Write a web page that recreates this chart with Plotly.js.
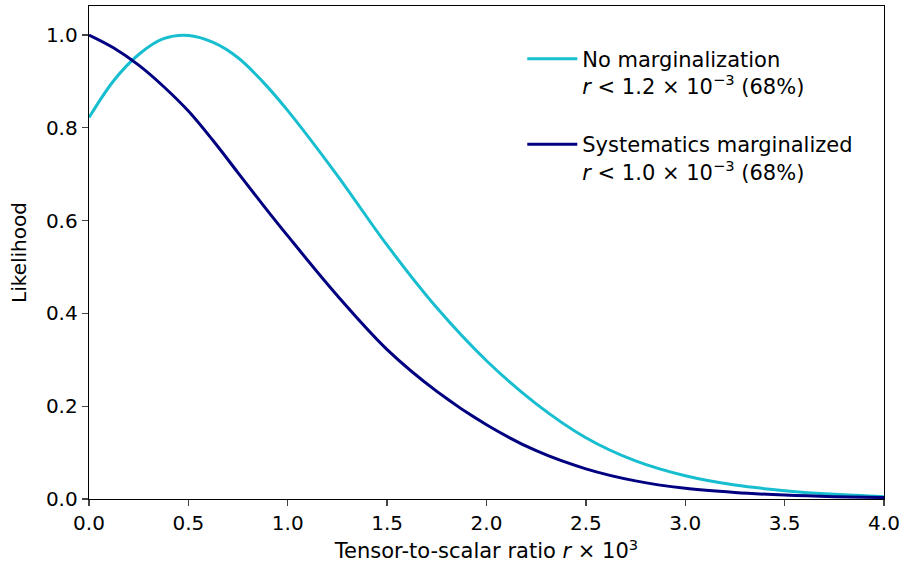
<!DOCTYPE html>
<html>
<head>
<meta charset="utf-8">
<script src="https://cdn.plot.ly/plotly-3.0.1.min.js"></script>
<style>html,body{margin:0;padding:0;background:#fff;}#chart{width:903px;height:567px;}</style>
</head>
<body>
<div id="chart"></div>
<script>
const rValues = [0.0, 0.125, 0.25, 0.375, 0.5, 0.625, 0.75, 0.875, 1.0, 1.25, 1.5, 1.75, 2.0, 2.25, 2.5, 2.75, 3.0, 3.25, 3.5, 3.75, 4.0];
const noMargL = [0.822, 0.902, 0.958, 0.992, 0.999, 0.984, 0.951, 0.899, 0.837, 0.697, 0.547, 0.412, 0.298, 0.205, 0.132, 0.082, 0.050, 0.030, 0.018, 0.010, 0.005];
const sysMargL = [1.0, 0.972, 0.935, 0.889, 0.836, 0.772, 0.703, 0.634, 0.567, 0.438, 0.322, 0.232, 0.160, 0.104, 0.065, 0.039, 0.023, 0.014, 0.0085, 0.005, 0.003];
const seriesNames = [
  'No marginalization<br><i>r</i> < 1.2 × 10<sup>−3</sup> (68%)',
  'Systematics marginalized<br><i>r</i> < 1.0 × 10<sup>−3</sup> (68%)'
];
const xTicks = [0, 0.5, 1.0, 1.5, 2.0, 2.5, 3.0, 3.5, 4.0];
const yTicks = [0, 0.2, 0.4, 0.6, 0.8, 1.0];

const FONT = 'DejaVu Sans, sans-serif';
const traces = [
  {x: rValues, y: noMargL, name: seriesNames[0], legendgroup: 'a', mode: 'lines',
   line: {color: '#17becf', width: 3, shape: 'spline', smoothing: 1}},
  {x: rValues, y: sysMargL, name: seriesNames[1], legendgroup: 'b', mode: 'lines',
   line: {color: '#000080', width: 3, shape: 'spline', smoothing: 1}}
];
const layout = {
  width: 903, height: 567,
  margin: {l: 89, r: 19, t: 6, b: 68},
  paper_bgcolor: '#fff', plot_bgcolor: '#fff',
  font: {family: FONT, size: 20, color: '#000'},
  showlegend: true,
  legend: {x: 0.545, y: 0.934, xanchor: 'left', yanchor: 'top', bgcolor: 'rgba(0,0,0,0)',
           font: {family: FONT, size: 21, color: '#000'}, valign: 'top', tracegroupgap: 28, itemwidth: 50},
  xaxis: {range: [0, 4], tickvals: xTicks, tickformat: '.1f', ticks: 'outside', ticklen: 6, tickwidth: 1.3,
          showline: true, linewidth: 1.3, linecolor: '#000', mirror: true, showgrid: false, zeroline: false,
          tickfont: {size: 20},
          title: {text: 'Tensor-to-scalar ratio <i>r</i> × 10<sup>3</sup>', font: {size: 21}, standoff: 9}},
  yaxis: {range: [0, 1.0625], tickvals: yTicks, tickformat: '.1f', ticks: 'outside', ticklen: 6, tickwidth: 1.3,
          showline: true, linewidth: 1.3, linecolor: '#000', mirror: true, showgrid: false, zeroline: false,
          tickfont: {size: 20},
          title: {text: 'Likelihood', font: {size: 20}, standoff: 14}}
};
Plotly.newPlot('chart', traces, layout, {displayModeBar: false, staticPlot: true});
</script>
</body>
</html>
